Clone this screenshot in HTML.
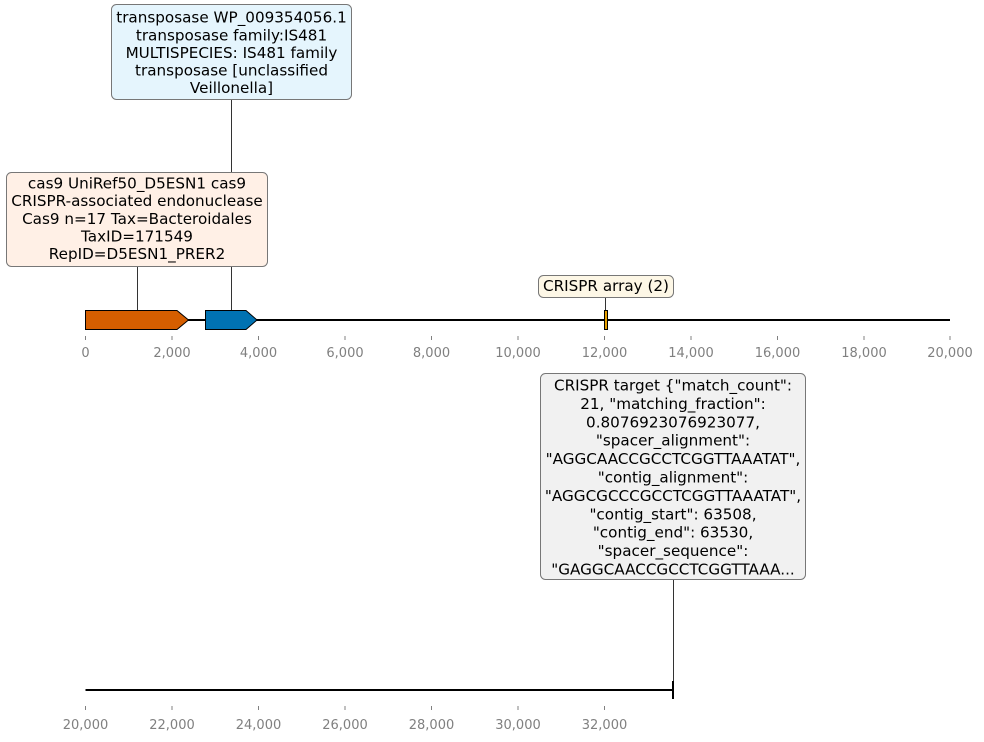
<!DOCTYPE html>
<html><head><meta charset="utf-8"><style>
body{margin:0;background:#fff}
svg{display:block}
text{font-family:"DejaVu Sans","Liberation Sans",sans-serif}
.l{font-size:15.2px;fill:#000}
.t{font-size:13px;fill:#808080}
</style></head><body>
<svg width="984" height="742" viewBox="0 0 984 742" xmlns="http://www.w3.org/2000/svg">
<g stroke="#333" stroke-width="1">
<line x1="231.5" y1="100" x2="231.5" y2="310"/>
<line x1="137.5" y1="267" x2="137.5" y2="310"/>
<line x1="605.5" y1="298" x2="605.5" y2="310"/>
<line x1="673.5" y1="580" x2="673.5" y2="686"/>
</g>
<line x1="85.5" y1="320" x2="950" y2="320" stroke="#000" stroke-width="2"/>
<path d="M85.5,310.5 L177,310.5 L188.5,320 L177,329.5 L85.5,329.5 Z" fill="#d55e00" stroke="#000" stroke-width="1"/>
<path d="M205.5,310.5 L246,310.5 L257,320 L246,329.5 L205.5,329.5 Z" fill="#0072b2" stroke="#000" stroke-width="1"/>
<rect x="604.5" y="310.5" width="3" height="19" fill="#e69f00" stroke="#000" stroke-width="1"/>
<g stroke="#808080" stroke-width="1">
<line x1="85.5" y1="336" x2="85.5" y2="340"/><line x1="172" y1="336" x2="172" y2="340"/><line x1="258.5" y1="336" x2="258.5" y2="340"/><line x1="345" y1="336" x2="345" y2="340"/><line x1="431.5" y1="336" x2="431.5" y2="340"/><line x1="518" y1="336" x2="518" y2="340"/><line x1="604.5" y1="336" x2="604.5" y2="340"/><line x1="691" y1="336" x2="691" y2="340"/><line x1="777.5" y1="336" x2="777.5" y2="340"/><line x1="864" y1="336" x2="864" y2="340"/><line x1="950" y1="336" x2="950" y2="340"/>
</g>
<g class="t" text-anchor="middle">
<text x="85.5" y="357">0</text><text x="172" y="357">2,000</text><text x="258.5" y="357">4,000</text><text x="345" y="357">6,000</text><text x="431.5" y="357">8,000</text><text x="518" y="357">10,000</text><text x="604.5" y="357">12,000</text><text x="691" y="357">14,000</text><text x="777.5" y="357">16,000</text><text x="864" y="357">18,000</text><text x="950" y="357">20,000</text>
</g>
<line x1="85.5" y1="690" x2="673" y2="690" stroke="#000" stroke-width="2"/>
<line x1="673" y1="681" x2="673" y2="699" stroke="#000" stroke-width="2"/>
<g stroke="#808080" stroke-width="1">
<line x1="85.5" y1="706" x2="85.5" y2="710"/><line x1="172" y1="706" x2="172" y2="710"/><line x1="258.5" y1="706" x2="258.5" y2="710"/><line x1="345" y1="706" x2="345" y2="710"/><line x1="431.5" y1="706" x2="431.5" y2="710"/><line x1="518" y1="706" x2="518" y2="710"/><line x1="604.5" y1="706" x2="604.5" y2="710"/>
</g>
<g class="t" text-anchor="middle">
<text x="85.5" y="729">20,000</text><text x="172" y="729">22,000</text><text x="258.5" y="729">24,000</text><text x="345" y="729">26,000</text><text x="431.5" y="729">28,000</text><text x="518" y="729">30,000</text><text x="604.5" y="729">32,000</text>
</g>
<rect x="111.5" y="4.5" width="240" height="95" rx="5" fill="#e5f5fd" stroke="#777" stroke-width="1"/>
<g class="l" text-anchor="middle">
<text x="231.5" y="22.5">transposase WP_009354056.1</text>
<text x="231.5" y="40.5">transposase family:IS481</text>
<text x="231.5" y="58">MULTISPECIES: IS481 family</text>
<text x="231.5" y="75.5">transposase [unclassified</text>
<text x="231.5" y="93">Veillonella]</text>
</g>
<rect x="6.5" y="172.5" width="261" height="94" rx="5" fill="#fff0e6" stroke="#777" stroke-width="1"/>
<g class="l" text-anchor="middle">
<text x="137" y="188.5">cas9 UniRef50_D5ESN1 cas9</text>
<text x="137" y="206">CRISPR-associated endonuclease</text>
<text x="137" y="224">Cas9 n=17 Tax=Bacteroidales</text>
<text x="137" y="241.5">TaxID=171549</text>
<text x="137" y="259">RepID=D5ESN1_PRER2</text>
</g>
<rect x="538.5" y="275.5" width="135" height="22" rx="5" fill="#fdf7e6" stroke="#777" stroke-width="1"/>
<text class="l" x="606" y="291" text-anchor="middle">CRISPR array (2)</text>
<rect x="540.5" y="373.5" width="265" height="206" rx="5" fill="#f1f1f1" stroke="#777" stroke-width="1"/>
<g class="l" text-anchor="middle">
<text x="673" y="390.5">CRISPR target {"match_count":</text>
<text x="673" y="408.9">21, "matching_fraction":</text>
<text x="673" y="427.3">0.8076923076923077,</text>
<text x="673" y="445.7">"spacer_alignment":</text>
<text x="673" y="464.1">"AGGCAACCGCCTCGGTTAAATAT",</text>
<text x="673" y="482.5">"contig_alignment":</text>
<text x="673" y="500.9">"AGGCGCCCGCCTCGGTTAAATAT",</text>
<text x="673" y="519.3">"contig_start": 63508,</text>
<text x="673" y="537.7">"contig_end": 63530,</text>
<text x="673" y="556.1">"spacer_sequence":</text>
<text x="673" y="574.5">"GAGGCAACCGCCTCGGTTAAA...</text>
</g>
</svg>
</body></html>
